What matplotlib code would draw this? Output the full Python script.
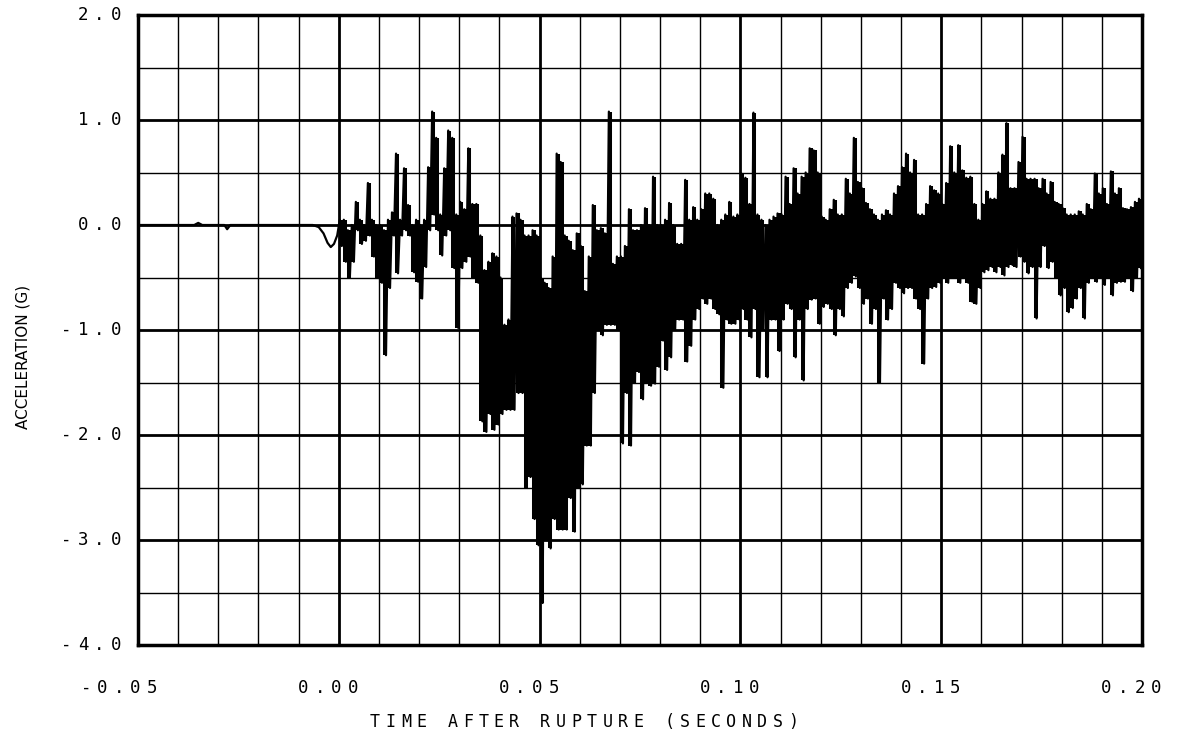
import numpy as np
import matplotlib.pyplot as plt
from matplotlib.transforms import ScaledTranslation, blended_transform_factory

# trace before rupture (seconds, g)
t_pre = [-0.050, -0.036, -0.035, -0.034, -0.0285, -0.0278, -0.0270, -0.0065,
         -0.0050, -0.0038, -0.0028, -0.0020, -0.0012, -0.0004]
g_pre = [0.00, 0.00, 0.02, 0.00, 0.00, -0.04, 0.00, 0.00,
         -0.02, -0.08, -0.17, -0.21, -0.18, -0.10]

# upper / lower excursion of the trace in each millisecond after rupture (g)
hi = [0.05, 0.05, -0.05, 0.00, 0.22, 0.05, 0.00, 0.40, 0.05, 0.00,
      0.00, -0.05, 0.05, 0.12, 0.68, 0.05, 0.54, 0.19, 0.00, 0.05,
      0.00, 0.05, 0.55, 1.08, 0.83, 0.10, 0.54, 0.90, 0.83, 0.10,
      0.22, 0.15, 0.73, 0.20, 0.20, -0.10, -0.43, -0.35, -0.27, -0.30,
      -0.50, -0.95, -0.90, 0.08, 0.11, 0.05, -0.10, -0.10, -0.05, -0.10,
      -0.50, -0.55, -0.60, -0.30, 0.68, 0.60, -0.10, -0.15, -0.24, -0.08,
      -0.20, -0.63, -0.30, 0.19, -0.05, -0.03, -0.08, 1.08, -0.37, -0.30,
      -0.30, -0.20, 0.15, -0.05, -0.05, 0.00, 0.16, 0.00, 0.46, 0.00,
      0.00, 0.05, 0.21, 0.00, -0.18, -0.18, 0.43, 0.05, 0.17, 0.05,
      0.15, 0.30, 0.30, 0.25, 0.00, 0.05, 0.10, 0.22, 0.08, 0.10,
      0.49, 0.45, 0.20, 1.07, 0.10, 0.05, 0.00, 0.05, 0.08, 0.11,
      0.10, 0.46, 0.20, 0.54, 0.30, 0.46, 0.50, 0.73, 0.71, 0.50,
      0.08, 0.05, 0.15, 0.24, 0.10, 0.10, 0.44, 0.30, 0.83, 0.41,
      0.35, 0.21, 0.15, 0.10, 0.05, 0.10, 0.14, 0.10, 0.30, 0.37,
      0.55, 0.68, 0.50, 0.62, 0.10, 0.10, 0.20, 0.37, 0.33, 0.30,
      0.20, 0.40, 0.75, 0.50, 0.76, 0.52, 0.45, 0.46, 0.20, 0.05,
      0.20, 0.32, 0.25, 0.25, 0.50, 0.67, 0.97, 0.35, 0.35, 0.60,
      0.84, 0.44, 0.44, 0.44, 0.35, 0.44, 0.30, 0.41, 0.22, 0.20,
      0.16, 0.10, 0.10, 0.10, 0.13, 0.10, 0.20, 0.15, 0.49, 0.30,
      0.35, 0.20, 0.51, 0.30, 0.35, 0.16, 0.15, 0.17, 0.22, 0.25]
lo = [-0.20, -0.35, -0.50, -0.35, -0.05, -0.18, -0.15, -0.10, -0.30, -0.50,
      -0.55, -1.24, -0.60, -0.10, -0.46, -0.10, -0.05, -0.10, -0.45, -0.54,
      -0.70, -0.40, -0.05, 0.10, -0.05, -0.29, -0.10, -0.05, -0.41, -0.98,
      -0.41, -0.35, -0.30, -0.50, -0.55, -1.87, -1.97, -1.80, -1.95, -1.90,
      -1.80, -1.76, -1.76, -1.76, -1.60, -1.60, -2.50, -2.40, -2.80, -3.05,
      -3.60, -3.00, -3.08, -2.80, -2.90, -2.90, -2.90, -2.60, -2.92, -2.50,
      -2.47, -2.10, -2.10, -1.60, -1.00, -1.05, -0.95, -0.95, -0.95, -1.00,
      -2.08, -1.60, -2.10, -1.50, -1.40, -1.66, -1.50, -1.53, -1.51, -1.35,
      -1.10, -1.38, -1.26, -1.00, -0.90, -0.90, -1.30, -1.15, -0.90, -0.80,
      -0.70, -0.75, -0.70, -0.80, -0.85, -1.55, -0.90, -0.94, -0.94, -0.90,
      -0.80, -0.90, -1.07, -0.80, -1.45, -1.00, -1.45, -0.90, -0.90, -1.20,
      -0.90, -0.75, -0.80, -1.26, -0.90, -1.48, -0.80, -0.71, -0.70, -0.94,
      -0.78, -0.75, -0.80, -1.05, -0.80, -0.87, -0.60, -0.55, -0.49, -0.60,
      -0.75, -0.70, -0.94, -0.80, -1.50, -0.70, -0.90, -0.80, -0.55, -0.60,
      -0.65, -0.60, -0.60, -0.70, -0.80, -1.32, -0.70, -0.60, -0.59, -0.55,
      -0.50, -0.55, -0.50, -0.50, -0.55, -0.50, -0.55, -0.73, -0.75, -0.60,
      -0.45, -0.43, -0.40, -0.45, -0.40, -0.48, -0.40, -0.38, -0.40, -0.30,
      -0.35, -0.46, -0.40, -0.89, -0.40, -0.20, -0.41, -0.35, -0.50, -0.67,
      -0.60, -0.83, -0.79, -0.70, -0.60, -0.89, -0.55, -0.50, -0.54, -0.50,
      -0.57, -0.50, -0.67, -0.55, -0.54, -0.54, -0.50, -0.63, -0.50, -0.41]

x_ticks = [-0.05, 0.00, 0.05, 0.10, 0.15, 0.20]
x_labels = ["-0.05", "0.00", "0.05", "0.10", "0.15", "0.20"]
y_ticks = [2.0, 1.0, 0.0, -1.0, -2.0, -3.0, -4.0]
y_labels = ["2.0", "1.0", "0.0", "-1.0", "-2.0", "-3.0", "-4.0"]

# zig-zag between the per-millisecond extremes
ms = np.arange(len(hi))
t_post = np.column_stack([(ms + 0.25) / 1000, (ms + 0.75) / 1000]).ravel()
g_post = np.column_stack([hi, lo]).ravel()
t = np.concatenate([t_pre, t_post])
g = np.concatenate([g_pre, g_post])

W, H = 1179, 743
fig = plt.figure(figsize=(W / 100, H / 100), dpi=100)
ax = fig.add_axes([138 / W, 1 - 645 / H, (1142 - 138) / W, (645 - 15) / H])

ax.plot(t, g, color="black", lw=1.6, zorder=3)
# each millisecond drawn as a solid stroke from its low to its high
ax.vlines((ms + 0.5) / 1000, lo, hi, color="black", lw=2.9, zorder=3)

ax.set_xlim(-0.05, 0.20)
ax.set_ylim(-4.0, 2.0)
ax.set_xticks(x_ticks)
ax.set_xticks(np.arange(-5, 21) / 100, minor=True)
ax.set_yticks(y_ticks)
ax.set_yticks(np.arange(-8, 5) / 2, minor=True)
ax.grid(which="major", color="black", lw=2.0)
ax.grid(which="minor", color="black", lw=1.0)
ax.tick_params(which="both", length=0, labelbottom=False, labelleft=False)
for s in ax.spines.values():
    s.set_linewidth(2.5)

MONO = "DejaVu Sans Mono"


def spaced(x, y, s, trans, dx=0, dy=0, cell=16.5, size=12.5):
    # plotter-style lettering: fixed cell per character, right aligned
    n = len(s)
    for i, ch in enumerate(s):
        off = ScaledTranslation((dx - (n - 1 - i) * cell) / 100, dy / 100,
                                fig.dpi_scale_trans)
        fig.text(x, y, ch, transform=trans + off, ha="center", va="center",
                 family=MONO, fontsize=size)


xtrans = blended_transform_factory(ax.transData, ax.transAxes)
for v, lab in zip(x_ticks, x_labels):
    spaced(v, 0, lab, xtrans, dx=14, dy=-43)

ytrans = blended_transform_factory(ax.transAxes, ax.transData)
for v, lab in zip(y_ticks, y_labels):
    spaced(0, v, lab, ytrans, dx=-22)

xl = "TIME AFTER RUPTURE (SECONDS)"
spaced(0, 0, xl, fig.transFigure, dx=584 + (len(xl) - 1) / 2 * 15.5,
       dy=743 - 722, cell=15.5, size=12)

fig.text(23 / W, 1 - 357 / H, "ACCELERATION (G)", rotation=90,
         ha="center", va="center", fontsize=11)

fig.savefig("out.png", dpi=100)
